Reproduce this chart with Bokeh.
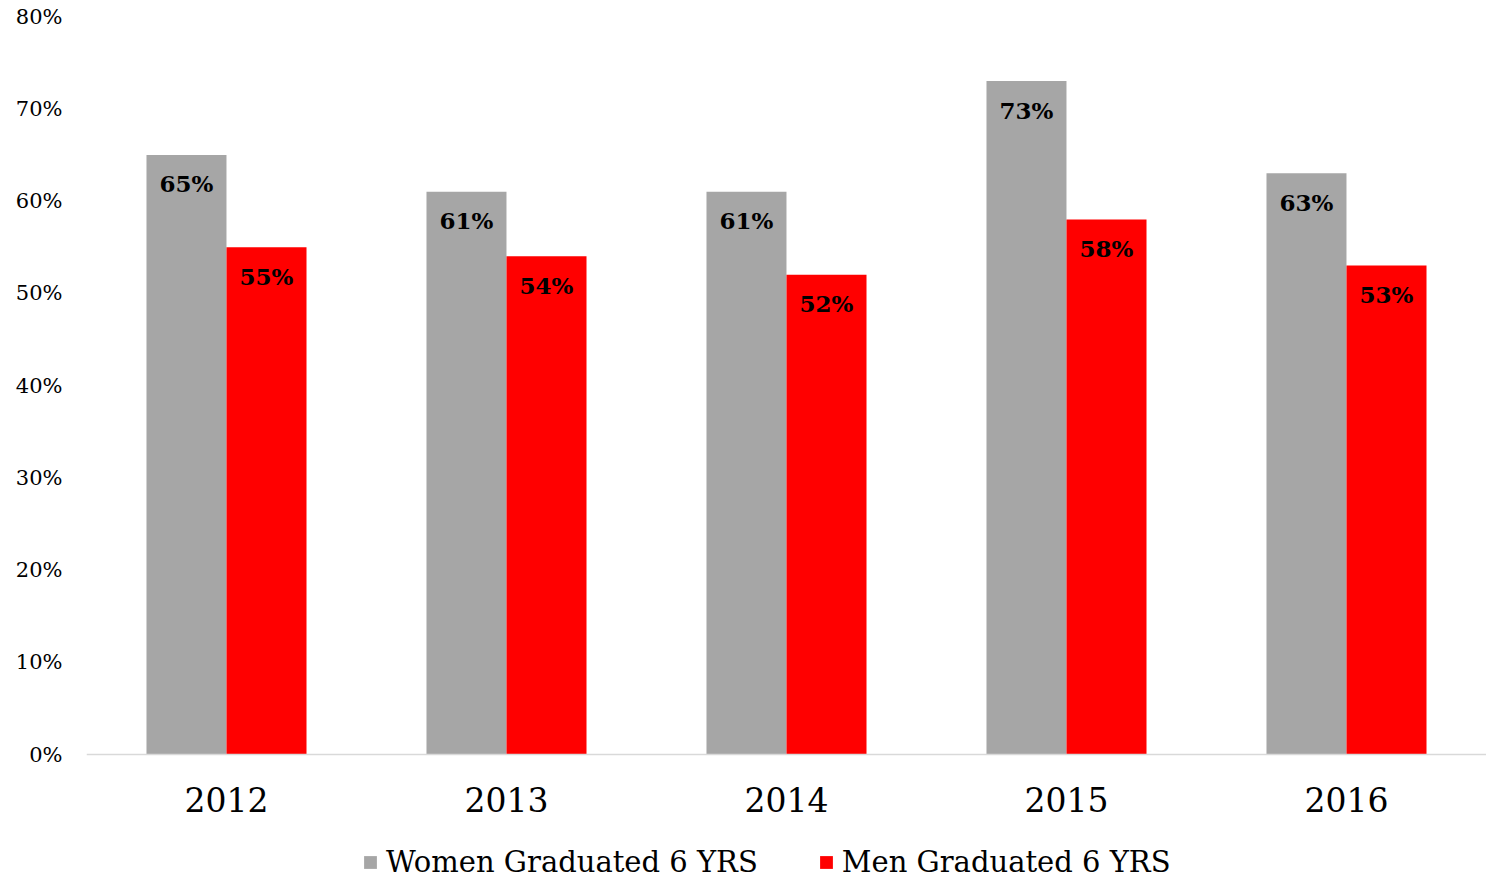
from bokeh.plotting import figure
from bokeh.models import ColumnDataSource, Legend, LegendItem, NumeralTickFormatter, FixedTicker
from bokeh.transform import dodge
from bokeh.core.properties import value
from bokeh.embed import file_html
from bokeh.resources import INLINE

years = ["2012", "2013", "2014", "2015", "2016"]
women = [0.65, 0.61, 0.61, 0.73, 0.63]
men = [0.55, 0.54, 0.52, 0.58, 0.53]
women_labels = ["65%", "61%", "61%", "73%", "63%"]
men_labels = ["55%", "54%", "52%", "58%", "53%"]
y_ticks = [0, 0.1, 0.2, 0.3, 0.4, 0.5, 0.6, 0.7, 0.8]

GRAY = "#A6A6A6"
RED = "#FF0000"
FONT = "DejaVu Serif"

src = ColumnDataSource(dict(year=years, women=women, men=men,
                            wl=women_labels, ml=men_labels))

# frame extends below zero so the legend can sit under the category labels
p = figure(x_range=years, y_range=(-0.1355, 0.8), frame_width=1400, frame_height=863,
           output_backend="svg", toolbar_location=None,
           min_border_left=86, min_border_right=0, min_border_top=16, min_border_bottom=0)
p.outline_line_color = None
p.xgrid.grid_line_color = None
p.ygrid.grid_line_color = None
p.x_range.range_padding = 0

bw = 0.2857
off = 0.1429
rw = p.vbar(x=dodge("year", -off, range=p.x_range), top="women", bottom=0, width=bw,
            source=src, fill_color=GRAY, line_color=None)
rm = p.vbar(x=dodge("year", off, range=p.x_range), top="men", bottom=0, width=bw,
            source=src, fill_color=RED, line_color=None)

p.text(x=dodge("year", -off, range=p.x_range), y="women", text="wl", source=src,
       text_font=value(FONT), text_font_style="bold", text_font_size="23px",
       text_align="center", text_baseline="middle", y_offset=29, text_color="black")
p.text(x=dodge("year", off, range=p.x_range), y="men", text="ml", source=src,
       text_font=value(FONT), text_font_style="bold", text_font_size="23px",
       text_align="center", text_baseline="middle", y_offset=29, text_color="black")

p.yaxis.ticker = FixedTicker(ticks=y_ticks)
p.yaxis.formatter = NumeralTickFormatter(format="0%")
p.yaxis.axis_line_color = None
p.yaxis.major_tick_line_color = None
p.yaxis.minor_tick_line_color = None
p.yaxis.major_label_text_font = FONT
p.yaxis.major_label_text_font_size = "21px"
p.yaxis.major_label_text_color = "#000000"
p.yaxis.major_label_standoff = 18

p.xaxis.fixed_location = 0
p.xaxis.axis_line_color = "#D9D9D9"
p.xaxis.axis_line_width = 1.5
p.xaxis.major_tick_line_color = None
p.xaxis.minor_tick_line_color = None
p.xaxis.major_label_text_font = FONT
p.xaxis.major_label_text_font_size = "33px"
p.xaxis.major_label_text_color = "#000000"
p.xaxis.major_label_standoff = 26

legend = Legend(items=[LegendItem(label="Women Graduated 6 YRS", renderers=[rw]),
                       LegendItem(label="Men Graduated 6 YRS", renderers=[rm])],
                orientation="horizontal", location=(276, 0))
legend.label_text_font = FONT
legend.label_text_font_size = "29px"
legend.label_text_color = "#000000"
legend.glyph_width = 16
legend.glyph_height = 16
legend.spacing = 60
legend.label_standoff = 8
legend.padding = 0
legend.margin = 0
legend.border_line_color = None
legend.background_fill_alpha = 0
p.add_layout(legend)

open("out.html", "w").write(file_html(p, INLINE))
